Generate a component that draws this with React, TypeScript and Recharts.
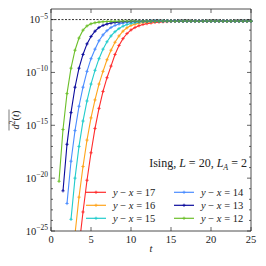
import { LineChart, Line, XAxis, YAxis, ReferenceLine } from "recharts";

const INK = "#222";
const FONT = "'Liberation Serif', 'DejaVu Serif', serif";

// time grid (t = 1 ... 25, step 0.5)
const T = [
  1, 1.5, 2, 2.5, 3, 3.5, 4, 4.5, 5, 5.5,
  6, 6.5, 7, 7.5, 8, 8.5, 9, 9.5, 10, 10.5,
  11, 11.5, 12, 12.5, 13, 13.5, 14, 14.5, 15, 15.5,
  16, 16.5, 17, 17.5, 18, 18.5, 19, 19.5, 20, 20.5,
  21, 21.5, 22, 22.5, 23, 23.5, 24, 24.5, 25,
];

// log10 of d^2(t)
const D17 = [
  null, null, null, null, null, -26.5, -23.2, -20.2, -17.6, -15.3,
  -13.4, -11.8, -10.5, -9.4, -8.3, -7.45, -6.8, -6.32, -5.98, -5.75,
  -5.58, -5.46, -5.38, -5.32, -5.27, -5.24, -5.21, -5.19, -5.18, -5.17,
  -5.16, -5.16, -5.15, -5.15, -5.16, -5.15, -5.15, -5.15, -5.15, -5.15,
  -5.16, -5.15, -5.15, -5.15, -5.15, -5.15, -5.16, -5.15, -5.15,
];
const D16 = [
  null, null, null, null, -25.3, -21.8, -18.9, -16.4, -14.3, -12.6,
  -11.1, -9.9, -8.8, -7.9, -7.15, -6.55, -6.1, -5.78, -5.57, -5.43,
  -5.34, -5.28, -5.24, -5.21, -5.19, -5.17, -5.16, -5.16, -5.15, -5.15,
  -5.16, -5.15, -5.15, -5.15, -5.15, -5.15, -5.16, -5.15, -5.15, -5.15,
  -5.15, -5.16, -5.15, -5.15, -5.15, -5.15, -5.15, -5.16, -5.15,
];
const D15 = [
  null, null, null, -23.9, -20.0, -17.0, -14.6, -12.7, -11.1, -9.8,
  -8.7, -7.8, -7.1, -6.55, -6.15, -5.85, -5.62, -5.47, -5.37, -5.3,
  -5.25, -5.21, -5.19, -5.17, -5.16, -5.16, -5.15, -5.15, -5.16, -5.15,
  -5.15, -5.15, -5.15, -5.16, -5.15, -5.15, -5.15, -5.15, -5.15, -5.16,
  -5.15, -5.15, -5.15, -5.15, -5.15, -5.16, -5.15, -5.15, -5.15,
];
const D14 = [
  null, null, -22.4, -18.4, -15.5, -13.2, -11.4, -9.9, -8.7, -7.8,
  -7.0, -6.45, -6.05, -5.75, -5.55, -5.42, -5.33, -5.27, -5.23, -5.2,
  -5.18, -5.17, -5.16, -5.16, -5.15, -5.15, -5.16, -5.15, -5.15, -5.15,
  -5.15, -5.15, -5.16, -5.15, -5.15, -5.15, -5.15, -5.15, -5.16, -5.15,
  -5.15, -5.15, -5.15, -5.15, -5.16, -5.15, -5.15, -5.15, -5.15,
];
const D13 = [
  null, -21.2, -16.8, -13.8, -11.4, -9.6, -8.3, -7.3, -6.6, -6.1,
  -5.75, -5.55, -5.42, -5.33, -5.27, -5.23, -5.2, -5.18, -5.17, -5.16,
  -5.16, -5.15, -5.16, -5.15, -5.15, -5.15, -5.16, -5.15, -5.15, -5.15,
  -5.15, -5.16, -5.15, -5.15, -5.15, -5.15, -5.15, -5.16, -5.15, -5.15,
  -5.15, -5.15, -5.15, -5.16, -5.15, -5.15, -5.15, -5.15, -5.15,
];
const D12 = [
  -20.3, -15.4, -12.0, -9.6, -7.9, -6.75, -6.0, -5.6, -5.4, -5.3,
  -5.24, -5.2, -5.18, -5.17, -5.16, -5.16, -5.15, -5.16, -5.15, -5.15,
  -5.16, -5.15, -5.15, -5.15, -5.16, -5.15, -5.15, -5.15, -5.15, -5.16,
  -5.15, -5.15, -5.15, -5.15, -5.15, -5.16, -5.15, -5.15, -5.15, -5.15,
  -5.15, -5.15, -5.16, -5.15, -5.15, -5.15, -5.15, -5.15, -5.15,
];

const SERIES = [
  { key: "s17", label: "17", color: "#ff2b2b", values: D17 },
  { key: "s16", label: "16", color: "#ffa41b", values: D16 },
  { key: "s15", label: "15", color: "#22cccc", values: D15 },
  { key: "s14", label: "14", color: "#4a8cff", values: D14 },
  { key: "s13", label: "13", color: "#0a0a9c", values: D13 },
  { key: "s12", label: "12", color: "#6cbf2a", values: D12 },
];

const XTICKS = [0, 5, 10, 15, 20, 25];
const YTICKS = [
  1e-25, 1e-24, 1e-23, 1e-22, 1e-21, 1e-20, 1e-19, 1e-18, 1e-17, 1e-16, 1e-15,
  1e-14, 1e-13, 1e-12, 1e-11, 1e-10, 1e-9, 1e-8, 1e-7, 1e-6, 1e-5,
];
const PAGE_LEVEL = 1e-5;

const rows = T.map((t, i) => {
  const row: Record<string, number | null> = { t };
  SERIES.forEach((s) => {
    const v = s.values[i];
    row[s.key] = v == null ? null : Math.pow(10, v);
  });
  return row;
});

const plusDot = (color: string) => (p: any) => {
  const { cx, cy, index } = p;
  if (cx == null || cy == null || isNaN(cy)) return <g key={index} />;
  return (
    <path
      key={index}
      d={`M${cx - 1.6},${cy}h3.2M${cx},${cy - 1.6}v3.2`}
      stroke={color}
      strokeWidth={0.9}
    />
  );
};

const expOf = (v: number) => Math.round(Math.log10(v));

// plot box in page pixels
const L = 51;
const R = 251;
const TOP = 9;
const BOT = 231;

function LeftTick({ y, payload }: any) {
  const e = expOf(payload.value);
  const major = e % 5 === 0;
  return (
    <g>
      <line x1={L} x2={L + (major ? 4 : 2)} y1={y} y2={y} stroke={INK} strokeWidth={0.7} />
      {major && (
        <text x={L - 3} y={y + 3.5} textAnchor="end" fontSize={10.5} fontFamily={FONT} fill={INK}>
          10
          <tspan dy={-4.5} fontSize={7.5}>{`\u2212${-e}`}</tspan>
        </text>
      )}
    </g>
  );
}

function RightTick({ y, payload }: any) {
  const e = expOf(payload.value);
  const major = e % 5 === 0;
  return <line x1={R} x2={R - (major ? 4 : 2)} y1={y} y2={y} stroke={INK} strokeWidth={0.7} />;
}

function BottomTick({ x, payload }: any) {
  return (
    <g>
      <line x1={x} x2={x} y1={BOT} y2={BOT - 4} stroke={INK} strokeWidth={0.7} />
      <text x={x} y={BOT + 12} textAnchor="middle" fontSize={10.5} fontFamily={FONT} fill={INK}>
        {payload.value}
      </text>
    </g>
  );
}

function TopTick({ x }: any) {
  return <line x1={x} x2={x} y1={TOP} y2={TOP + 4} stroke={INK} strokeWidth={0.7} />;
}

function LegendEntry({ s, x, y }: { s: (typeof SERIES)[number]; x: number; y: number }) {
  return (
    <g>
      <line x1={x} x2={x + 20} y1={y} y2={y} stroke={s.color} strokeWidth={1.2} />
      <path d={`M${x + 8.4},${y}h3.2M${x + 10},${y - 1.6}v3.2`} stroke={s.color} strokeWidth={0.9} />
      <text x={x + 27} y={y + 3.4} fontSize={10.5} fontFamily={FONT} fill={INK}>
        <tspan fontStyle="italic">y</tspan> {"\u2212"} <tspan fontStyle="italic">x</tspan> = {s.label}
      </text>
    </g>
  );
}

export default function App() {
  const axisLine = { stroke: INK, strokeWidth: 0.8 };
  return (
    <div style={{ position: "absolute", left: 0, top: 0, width: 266, height: 266, background: "#fff" }}>
      <LineChart width={266} height={266} data={rows} margin={{ top: 4, right: 10, bottom: 30, left: 46 }}>
        <XAxis
          xAxisId="b"
          dataKey="t"
          type="number"
          domain={[0, 25]}
          ticks={XTICKS}
          interval={0}
          height={5}
          tickSize={0}
          tickMargin={0}
          axisLine={axisLine}
          tick={(p: any) => <BottomTick {...p} />}
        />
        <XAxis
          xAxisId="tp"
          orientation="top"
          dataKey="t"
          type="number"
          domain={[0, 25]}
          ticks={XTICKS}
          interval={0}
          height={5}
          tickSize={0}
          tickMargin={0}
          axisLine={axisLine}
          tick={(p: any) => <TopTick {...p} />}
        />
        <YAxis
          yAxisId="l"
          scale="log"
          domain={[1e-25, 1e-4]}
          allowDataOverflow
          ticks={YTICKS}
          interval={0}
          width={5}
          tickSize={0}
          tickMargin={0}
          axisLine={axisLine}
          tick={(p: any) => <LeftTick {...p} />}
        />
        <YAxis
          yAxisId="r"
          orientation="right"
          scale="log"
          domain={[1e-25, 1e-4]}
          allowDataOverflow
          ticks={YTICKS}
          interval={0}
          width={5}
          tickSize={0}
          tickMargin={0}
          axisLine={axisLine}
          tick={(p: any) => <RightTick {...p} />}
        />
        <ReferenceLine
          xAxisId="b"
          yAxisId="l"
          y={PAGE_LEVEL}
          stroke="#000"
          strokeWidth={0.8}
          strokeDasharray="2 1.5"
        />
        {SERIES.map((s) => (
          <Line
            key={s.key}
            xAxisId="b"
            yAxisId="l"
            type="linear"
            dataKey={s.key}
            stroke={s.color}
            strokeWidth={1.1}
            dot={plusDot(s.color)}
            activeDot={false}
            isAnimationActive={false}
          />
        ))}
      </LineChart>
      <svg
        width={266}
        height={266}
        style={{ position: "absolute", left: 0, top: 0, pointerEvents: "none" }}
      >
        <g transform="translate(19,120) rotate(-90)" fontFamily={FONT} fill={INK}>
          <text x={0} y={0} textAnchor="middle" fontSize={10.5}>
            <tspan fontStyle="italic">d</tspan>
            <tspan dy={-4} fontSize={7.5}>2</tspan>
            <tspan dy={4}>(</tspan>
            <tspan fontStyle="italic">t</tspan>)
          </text>
          <line x1={-10.5} x2={10.5} y1={-10} y2={-10} stroke={INK} strokeWidth={0.6} />
        </g>
        <text x={151} y={252} textAnchor="middle" fontSize={10.5} fontStyle="italic" fontFamily={FONT} fill={INK}>
          t
        </text>
        <text x={247} y={167} textAnchor="end" fontSize={12} fontFamily={FONT} fill={INK}>
          Ising, <tspan fontStyle="italic">L</tspan> = 20, <tspan fontStyle="italic">L</tspan>
          <tspan dy={2.5} fontSize={8} fontStyle="italic">A</tspan>
          <tspan dy={-2.5}> = 2</tspan>
        </text>
        {SERIES.slice(0, 3).map((s, i) => (
          <LegendEntry key={s.key} s={s} x={86} y={192.3 + i * 13} />
        ))}
        {SERIES.slice(3).map((s, i) => (
          <LegendEntry key={s.key} s={s} x={174} y={192.3 + i * 13} />
        ))}
      </svg>
    </div>
  );
}
